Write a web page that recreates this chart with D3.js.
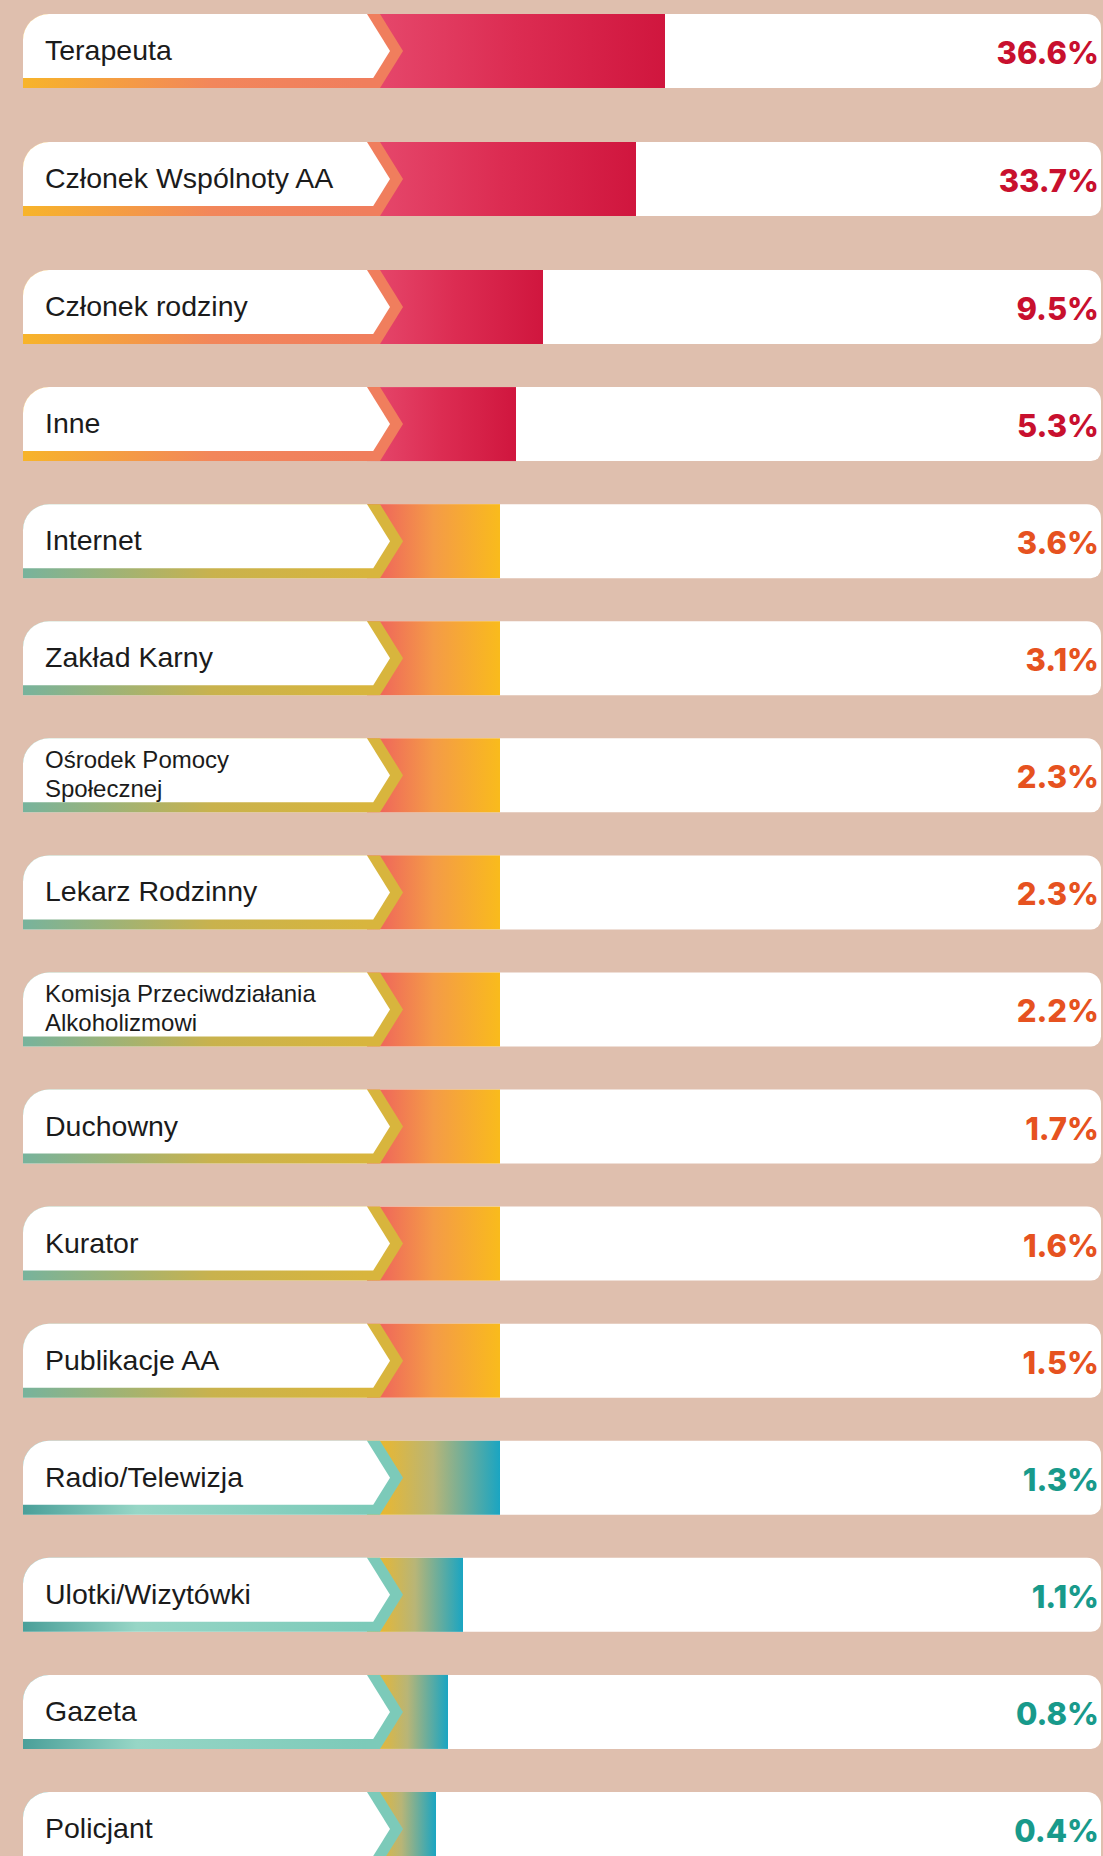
<!DOCTYPE html>
<html>
<head>
<meta charset="utf-8">
<title>Źródło informacji o AA</title>
<script src="https://cdnjs.cloudflare.com/ajax/libs/d3/7.8.5/d3.min.js"></script>
<style>
  html, body { margin: 0; padding: 0; background: #dfbfae; }
  svg { display: block; }
  .label { font-family: "Liberation Sans", Arial, sans-serif; fill: #1b1b1b; }
  .value { font-family: Inter, "Open Sans", sans-serif; font-weight: 800; }
</style>
</head>
<body>
<div id="chart"></div>
<script>
// data
var categories = [
  "Terapeuta", "Członek Wspólnoty AA", "Członek rodziny", "Inne", "Internet",
  "Zakład Karny", "Ośrodek Pomocy\nSpołecznej", "Lekarz Rodzinny",
  "Komisja Przeciwdziałania\nAlkoholizmowi", "Duchowny", "Kurator",
  "Publikacje AA", "Radio/Telewizja", "Ulotki/Wizytówki", "Gazeta", "Policjant"
];
var values = [36.6, 33.7, 9.5, 5.3, 3.6, 3.1, 2.3, 2.3, 2.2, 1.7, 1.6, 1.5, 1.3, 1.1, 0.8, 0.4];
var groups = ["red", "red", "red", "red",
  "orange", "orange", "orange", "orange", "orange", "orange", "orange", "orange",
  "teal", "teal", "teal", "teal"];

var palette = {
  red:    { band: ["#f7b42a", "#f2865b", "#f07e5d"], bar: ["#e6496d", "#dc2c52", "#d0163e"], text: "#c8102e" },
  orange: { band: ["#77b39c", "#c9b24d", "#d8b53d"], bar: ["#ee5a5f", "#f49b47", "#f9bb1c"], text: "#e65220" },
  teal:   { band: ["#4a9f99", "#97d6c6", "#7ccab9"], bar: ["#f6b81e", "#b8b577", "#1aa5c2"], text: "#189a8b" }
};

var width = 1103, height = 1856;
var left = 23, right = 1101, rowH = 74, bandH = 10;
var chevX = 380, chevTip = 23, chevInset = 13, barStart = 367;
var n = categories.length;

// bars in the picture are not proportional: the scale follows the drawn lengths
var x = d3.scaleLinear()
  .domain([0.4, 0.8, 1.1, 1.3, 3.6, 5.3, 9.5, 33.7, 36.6])
  .range([436, 448, 463, 500, 500, 516, 543, 636, 665]);

var y = d3.scaleLinear()
  .domain([0, 2, n - 1])
  .range([14, 270, 1792]);

var svg = d3.select("#chart").append("svg")
  .attr("width", width)
  .attr("height", height);

svg.append("rect")
  .attr("width", width)
  .attr("height", height)
  .attr("fill", "#dfbfae");

var defs = svg.append("defs");
Object.keys(palette).forEach(function(k) {
  var p = palette[k];
  var band = defs.append("linearGradient").attr("id", "band-" + k);
  band.append("stop").attr("offset", 0).attr("stop-color", p.band[0]);
  band.append("stop").attr("offset", k === "teal" ? 0.3 : 0.5).attr("stop-color", p.band[1]);
  band.append("stop").attr("offset", 0.9).attr("stop-color", p.band[2]);
  band.append("stop").attr("offset", 1).attr("stop-color", p.band[2]);

  var bar = defs.append("linearGradient").attr("id", "bar-" + k);
  bar.append("stop").attr("offset", 0).attr("stop-color", p.bar[0]);
  bar.append("stop").attr("offset", 0.5).attr("stop-color", p.bar[1]);
  bar.append("stop").attr("offset", 1).attr("stop-color", p.bar[2]);
});

function trackPath() {
  var p = d3.path(), r1 = 26, r2 = 14, r3 = 10;
  p.moveTo(left, rowH);
  p.lineTo(left, r1);
  p.arcTo(left, 0, left + r1, 0, r1);
  p.lineTo(right - r2, 0);
  p.arcTo(right, 0, right, r2, r2);
  p.lineTo(right, rowH - r3);
  p.arcTo(right, rowH, right - r3, rowH, r3);
  p.closePath();
  return p.toString();
}

function outerPath() {
  var p = d3.path(), r = 26;
  p.moveTo(left, rowH);
  p.lineTo(left, r);
  p.arcTo(left, 0, left + r, 0, r);
  p.lineTo(chevX, 0);
  p.lineTo(chevX + chevTip, rowH / 2);
  p.lineTo(chevX, rowH);
  p.closePath();
  return p.toString();
}

function innerPath() {
  var p = d3.path(), r = 26;
  var xi = chevX - chevInset;
  var yb = rowH - bandH;
  var xb = xi + chevTip - (yb - rowH / 2) * chevTip / (rowH / 2);
  p.moveTo(left, yb);
  p.lineTo(left, r);
  p.arcTo(left, 0, left + r, 0, r);
  p.lineTo(xi, 0);
  p.lineTo(xi + chevTip, rowH / 2);
  p.lineTo(xb, yb);
  p.closePath();
  return p.toString();
}

var rows = svg.selectAll("g.row")
  .data(d3.range(n))
  .enter().append("g")
  .attr("class", "row")
  .attr("transform", function(i) { return "translate(0," + y(i) + ")"; });

rows.append("path")
  .attr("d", trackPath())
  .attr("fill", "#ffffff");

rows.append("rect")
  .attr("x", barStart)
  .attr("y", 0)
  .attr("width", function(i) { return x(values[i]) - barStart; })
  .attr("height", rowH)
  .attr("fill", function(i) { return "url(#bar-" + groups[i] + ")"; });

rows.append("path")
  .attr("d", outerPath())
  .attr("fill", function(i) { return "url(#band-" + groups[i] + ")"; });

rows.append("path")
  .attr("d", innerPath())
  .attr("fill", "#ffffff");

rows.append("text")
  .attr("class", "label")
  .attr("x", 45)
  .attr("font-size", function(i) { return categories[i].indexOf("\n") >= 0 ? 24 : 28.5; })
  .each(function(i) {
    var lines = categories[i].split("\n");
    var t = d3.select(this);
    if (lines.length === 1) {
      t.attr("y", 46).text(lines[0]);
    } else {
      lines.forEach(function(l, j) {
        t.append("tspan").attr("x", 45).attr("y", 30 + j * 29).text(l);
      });
    }
  });

rows.append("text")
  .attr("class", "value")
  .attr("x", 1099)
  .attr("y", 50)
  .attr("text-anchor", "end")
  .attr("font-size", 31)
  .attr("fill", function(i) { return palette[groups[i]].text; })
  .text(function(i) { return d3.format(".1f")(values[i]) + "%"; });
</script>
</body>
</html>
